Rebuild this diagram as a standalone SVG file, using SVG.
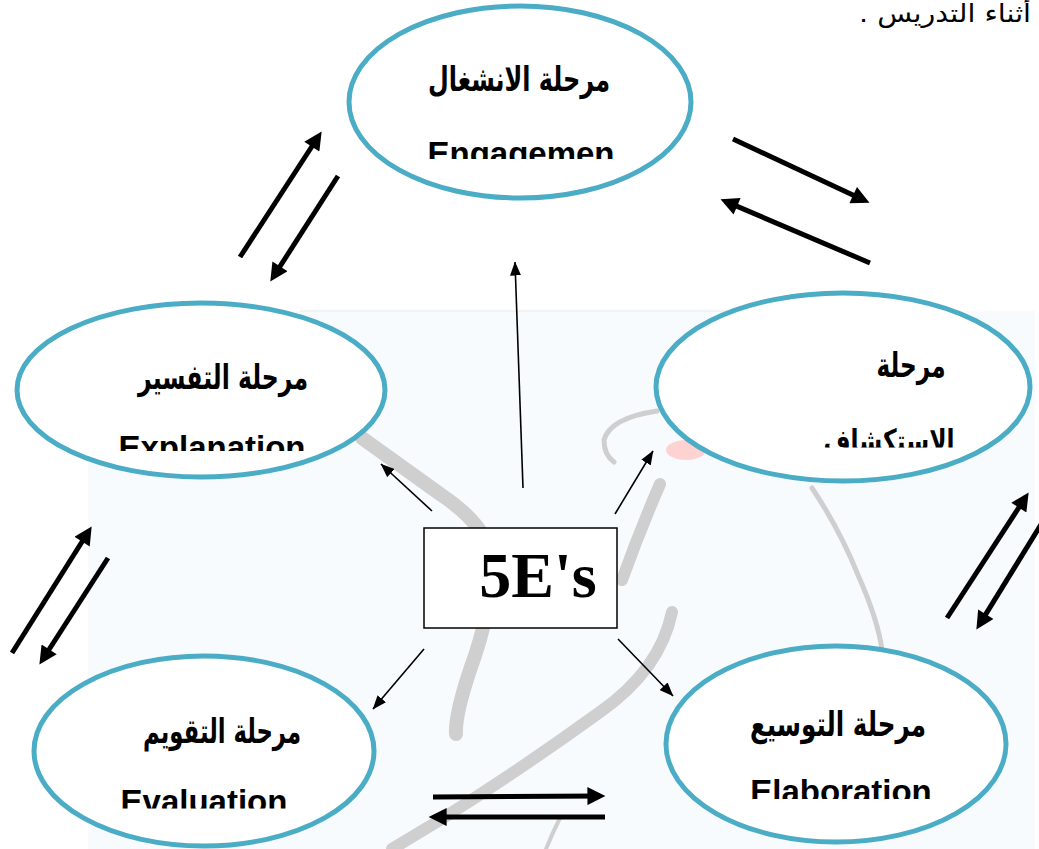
<svg xmlns="http://www.w3.org/2000/svg" width="1039" height="849" viewBox="0 0 1039 849">
<style>
.ell{fill:#ffffff;stroke:#4bacc6;stroke-width:5}
.ar{font-family:"DejaVu Sans",sans-serif;font-weight:bold;fill:#000}
.en{font-family:"Liberation Sans",Arial,sans-serif;font-weight:bold;font-size:33px;fill:#000}
.thick{stroke:#000;stroke-width:5;fill:none;marker-end:url(#ah)}
.thin{stroke:#000;stroke-width:1.6;fill:none;marker-end:url(#ahs)}
.wm{fill:none;stroke:#cfcfcf;stroke-linecap:round;stroke-linejoin:round}
</style>
<defs>
<marker id="ah" viewBox="0 0 10 10" refX="7" refY="5" markerWidth="4.2" markerHeight="3.6" orient="auto" markerUnits="strokeWidth"><path d="M0,0 L10,5 L0,10 z" fill="#000"/></marker>
<marker id="ahs" viewBox="0 0 14 11" refX="13.5" refY="5.5" markerWidth="14" markerHeight="11" orient="auto" markerUnits="userSpaceOnUse"><path d="M0,0 L14,5.5 L0,11 z" fill="#000"/></marker>
<clipPath id="cEng"><rect x="380" y="120" width="280" height="39"/></clipPath>
<clipPath id="cExpl"><rect x="60" y="415" width="300" height="36"/></clipPath>
<clipPath id="cEval"><rect x="60" y="770" width="300" height="38.5"/></clipPath>
<clipPath id="cElab"><rect x="700" y="760" width="300" height="39"/></clipPath>
<clipPath id="cExpr"><rect x="780" y="410" width="200" height="37.5"/></clipPath>
</defs>

<g id="background">
<rect x="0" y="0" width="1039" height="849" fill="#ffffff"/>
<rect x="88" y="311" width="947" height="538" fill="#f7fbfd"/>
<line x1="300" y1="311" x2="960" y2="311" stroke="#eef1f2" stroke-width="1.5"/>
<path class="wm" stroke-width="14" d="M362,438 L440,494 Q488,526 492,560 Q492,610 470,670 Q455,715 456,734"/>
<path class="wm" stroke-width="12" d="M660,484 Q640,530 622,580"/>
<path class="wm" stroke-width="12" d="M672,612 Q660,670 600,712 Q520,770 440,820 Q410,838 392,849"/>
<path class="wm" stroke-width="5" d="M657,411 Q610,418 604,440 Q604,455 614,462"/>
<ellipse cx="686" cy="450" rx="20" ry="10" fill="#ffd2d2"/>
<path class="wm" stroke-width="5" d="M812,488 Q840,530 858,575 Q878,620 882,650"/>
<path class="wm" stroke-width="4" d="M560,818 Q552,834 546,849"/>
</g>

<g id="connectors">
<line class="thick" x1="240" y1="257" x2="318.7" y2="136"/>
<line class="thick" x1="338" y1="176" x2="273.2" y2="277"/>
<line class="thick" x1="733" y1="139" x2="864.6" y2="200.5"/>
<line class="thick" x1="870" y1="263" x2="725.5" y2="201.4"/>
<line class="thick" x1="12" y1="653" x2="88.8" y2="531"/>
<line class="thick" x1="108" y1="558" x2="42.3" y2="660"/>
<line class="thick" x1="947" y1="618" x2="1025.7" y2="497"/>
<line class="thick" x1="1045" y1="518" x2="979.2" y2="624.9"/>
<line class="thick" x1="433" y1="797" x2="600" y2="796"/>
<line class="thick" x1="605" y1="817" x2="434" y2="817"/>
<line class="thin" x1="523" y1="488" x2="515" y2="262"/>
<line class="thin" x1="432" y1="511" x2="381" y2="464"/>
<line class="thin" x1="615" y1="514" x2="653" y2="451"/>
<line class="thin" x1="424" y1="649" x2="373" y2="709"/>
<line class="thin" x1="618" y1="639" x2="673" y2="696"/>
</g>

<g id="note">
<text x="1031" y="22" direction="rtl" text-anchor="start" font-family="'DejaVu Sans',sans-serif" font-size="25" fill="#000" textLength="172" lengthAdjust="spacingAndGlyphs">أثناء التدريس .</text>
</g>

<g id="engagement">
<ellipse class="ell" cx="520" cy="102" rx="171" ry="96"/>
<text class="ar" x="519" y="91" text-anchor="middle" font-size="34" textLength="182" lengthAdjust="spacingAndGlyphs">مرحلة الانشغال</text>
<text class="en" x="521" y="165" text-anchor="middle" clip-path="url(#cEng)">Engagemen</text>
</g>

<g id="exploration">
<ellipse class="ell" cx="843" cy="387" rx="187" ry="94"/>
<text class="ar" x="911" y="377" text-anchor="middle" font-size="34" textLength="69" lengthAdjust="spacingAndGlyphs">مرحلة</text>
<text class="ar" x="889" y="452" text-anchor="middle" font-size="32" textLength="131" lengthAdjust="spacingAndGlyphs" clip-path="url(#cExpr)">الاستكشاف</text>
</g>

<g id="explanation">
<ellipse class="ell" cx="201" cy="390" rx="184" ry="87"/>
<text class="ar" x="223" y="389" text-anchor="middle" font-size="34" textLength="170" lengthAdjust="spacingAndGlyphs">مرحلة التفسير</text>
<text class="en" x="212" y="459" text-anchor="middle" clip-path="url(#cExpl)">Explanation</text>
</g>

<g id="evaluation">
<ellipse class="ell" cx="204" cy="751" rx="170" ry="95"/>
<text class="ar" x="222" y="743" text-anchor="middle" font-size="34" textLength="158" lengthAdjust="spacingAndGlyphs">مرحلة التقويم</text>
<text class="en" x="204" y="813" text-anchor="middle" clip-path="url(#cEval)">Evaluation</text>
</g>

<g id="elaboration">
<ellipse class="ell" cx="836" cy="744" rx="170" ry="98"/>
<text class="ar" x="838" y="736" text-anchor="middle" font-size="34" textLength="176" lengthAdjust="spacingAndGlyphs">مرحلة التوسيع</text>
<text class="en" x="841" y="803" text-anchor="middle" clip-path="url(#cElab)">Elaboration</text>
</g>

<g id="center">
<rect x="424" y="528" width="193" height="100" fill="#ffffff" stroke="#000" stroke-width="1.5"/>
<text x="538" y="597" text-anchor="middle" font-family="'Liberation Serif','Times New Roman',serif" font-weight="bold" font-size="64" fill="#000">5E's</text>
</g>
</svg>
